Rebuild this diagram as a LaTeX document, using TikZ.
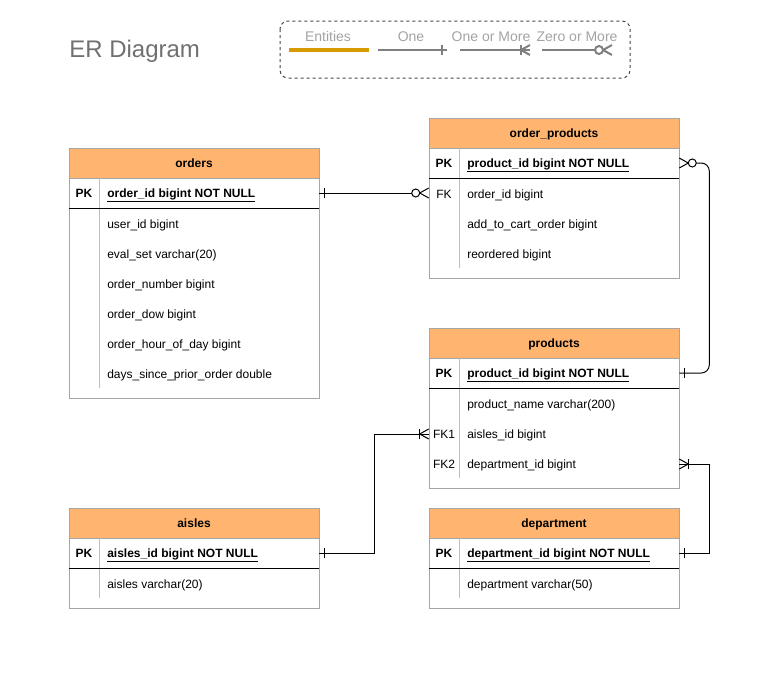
\documentclass[tikz,border=0pt]{standalone}
\usepackage{fontspec}
\setmainfont{Liberation Sans}
\usetikzlibrary{calc}
\definecolor{hdr}{HTML}{FFB570}
\definecolor{bord}{HTML}{A6A6A6}
\definecolor{divc}{HTML}{BDBDBD}
\definecolor{leg}{HTML}{A3A3A3}
\definecolor{legline}{HTML}{7F7F7F}
\definecolor{entc}{HTML}{D79B00}
\definecolor{titlec}{HTML}{707070}
\definecolor{legbox}{HTML}{444444}
\begin{document}
\begin{tikzpicture}[x=0.75pt,y=-0.75pt,
  font=\fontsize{9}{11}\selectfont,
  tblframe/.style={draw=bord, fill=white, line width=0.75pt},
  hdrbox/.style={draw=bord, fill=hdr, line width=0.75pt, minimum width=187.5pt, minimum height=22.5pt, inner sep=0pt, font=\fontsize{9}{11}\selectfont\bfseries},
  hdrtxt/.style={anchor=base, inner sep=0pt, font=\fontsize{9}{11}\selectfont\bfseries},
  rowbox/.style={minimum width=187.5pt, minimum height=22.5pt, inner sep=0pt},
  pkkey/.style={anchor=base, inner sep=0pt, font=\fontsize{9}{11}\selectfont\bfseries},
  fkkey/.style={anchor=base, inner sep=0pt},
  pkfld/.style={anchor=base west, inner sep=0pt, font=\fontsize{9}{11}\selectfont\bfseries},
  fld/.style={anchor=base west, inner sep=0pt},
  rowsep/.style={draw=black, line width=0.75pt},
  coldiv/.style={draw=divc, line width=0.75pt},
  conn/.style={draw=black, line width=0.75pt},
  mk/.style={draw=black, line width=0.75pt},
  legtxt/.style={anchor=base, inner sep=0pt, text=leg, font=\fontsize{10.5}{12}\selectfont},
  legln/.style={draw=legline, line width=1.5pt},
  erone/.pic={\draw[mk] (5,-5) -- (5,5);},
  ermany/.pic={\draw[mk] (0,-5) -- (9,0) -- (0,5); \draw[mk] (9,-5) -- (9,5);},
  erzmany/.pic={\draw[mk] (0,-5) -- (9,0) -- (0,5); \draw[mk, fill=white] (13,0) circle[radius=4];}
]
\useasboundingbox (0,0) rectangle (780,675);

% title
\node[anchor=base west, inner sep=0pt, text=titlec, font=\fontsize{18}{21}\selectfont] (title) at (69,57) {ER Diagram};

% legend
\draw[draw=legbox, line width=0.75pt, dash pattern=on 2.25pt off 2.25pt, rounded corners=6pt] (280,21) rectangle (630,78);
\node[legtxt] (lgent) at (328,41) {Entities};
\node[legtxt] (lgone) at (411,41) {One};
\node[legtxt] (lgom) at (491,41) {One or More};
\node[legtxt] (lgzm) at (577,41) {Zero or More};
\coordinate (le1) at (289,50); \coordinate (le2) at (369,50);
\draw[draw=entc, line width=3pt] (le1) -- (le2);
\coordinate (lo1) at (378,50); \coordinate (lo2) at (447,50);
\draw[legln] (lo1) -- (lo2);
\path (lo2) pic[xscale=-1, mk/.style={draw=legline, line width=1.5pt}]{erone};
\coordinate (lm1) at (460,50); \coordinate (lm2) at (530,50);
\draw[legln] (lm1) -- (lm2);
\path (lm2) pic[xscale=-1, mk/.style={draw=legline, line width=1.5pt}]{ermany};
\coordinate (lz1) at (542,50); \coordinate (lz2) at (612,50);
\draw[legln] (lz1) -- ($(lz2)+(-17,0)$);
\path (lz2) pic[xscale=-1, mk/.style={draw=legline, line width=1.5pt}]{erzmany};

% ---------- orders ----------
\draw[tblframe] (69,148) rectangle (319,398);
\node[hdrbox] (ordh) at (194,163) {};
\node[hdrtxt] (ordt) at (194,167) {orders};
\node[rowbox] (ordpk) at (194,193) {};
\draw[coldiv] (99,178) -- (99,388);
\draw[rowsep] (69,208) -- (319,208);
\node[pkkey] (ordk) at (84,197) {PK};
\node[pkfld] (ordf0) at (107,197) {\underline{order\_id bigint NOT NULL}};
\node[fld] (ordf1) at (107,228) {user\_id bigint};
\node[fld] (ordf2) at (107,258) {eval\_set varchar(20)};
\node[fld] (ordf3) at (107,288) {order\_number bigint};
\node[fld] (ordf4) at (107,318) {order\_dow bigint};
\node[fld] (ordf5) at (107,348) {order\_hour\_of\_day bigint};
\node[fld] (ordf6) at (107,378) {days\_since\_prior\_order double};

% ---------- order_products ----------
\draw[tblframe] (429,118) rectangle (679,278);
\node[hdrbox] (oph) at (554,133) {};
\node[hdrtxt] (opt) at (554,137) {order\_products};
\node[rowbox] (oppk) at (554,163) {};
\node[rowbox] (opfk) at (554,193) {};
\draw[coldiv] (459,148) -- (459,268);
\draw[rowsep] (429,178) -- (679,178);
\node[pkkey] (opk) at (444,167) {PK};
\node[pkfld] (opf0) at (467,167) {\underline{product\_id bigint NOT NULL}};
\node[fkkey] (opk1) at (444,198) {FK};
\node[fld] (opf1) at (467,198) {order\_id bigint};
\node[fld] (opf2) at (467,228) {add\_to\_cart\_order bigint};
\node[fld] (opf3) at (467,258) {reordered bigint};

% ---------- products ----------
\draw[tblframe] (429,328) rectangle (679,488);
\node[hdrbox] (prh) at (554,343) {};
\node[hdrtxt] (prt) at (554,347) {products};
\node[rowbox] (prpk) at (554,373) {};
\node[rowbox] (prfk1) at (554,434) {};
\node[rowbox] (prfk2) at (554,464) {};
\draw[coldiv] (459,358) -- (459,478);
\draw[rowsep] (429,388) -- (679,388);
\node[pkkey] (prk) at (444,377) {PK};
\node[pkfld] (prf0) at (467,377) {\underline{product\_id bigint NOT NULL}};
\node[fld] (prf1) at (467,408) {product\_name varchar(200)};
\node[fkkey] (prk1) at (444,438) {FK1};
\node[fld] (prf2) at (467,438) {aisles\_id bigint};
\node[fkkey] (prk2) at (444,468) {FK2};
\node[fld] (prf3) at (467,468) {department\_id bigint};

% ---------- aisles ----------
\draw[tblframe] (69,508) rectangle (319,608);
\node[hdrbox] (alh) at (194,523) {};
\node[hdrtxt] (alt) at (194,527) {aisles};
\node[rowbox] (alpk) at (194,553) {};
\draw[coldiv] (99,538) -- (99,598);
\draw[rowsep] (69,568) -- (319,568);
\node[pkkey] (alk) at (84,557) {PK};
\node[pkfld] (alf0) at (107,557) {\underline{aisles\_id bigint NOT NULL}};
\node[fld] (alf1) at (107,588) {aisles varchar(20)};

% ---------- department ----------
\draw[tblframe] (429,508) rectangle (679,608);
\node[hdrbox] (dph) at (554,523) {};
\node[hdrtxt] (dpt) at (554,527) {department};
\node[rowbox] (dppk) at (554,553) {};
\draw[coldiv] (459,538) -- (459,598);
\draw[rowsep] (429,568) -- (679,568);
\node[pkkey] (dpk) at (444,557) {PK};
\node[pkfld] (dpf0) at (467,557) {\underline{department\_id bigint NOT NULL}};
\node[fld] (dpf1) at (467,588) {department varchar(50)};

% ---------- connectors ----------
\draw[conn] (ordpk.east) -- ($(opfk.west)+(-17,0)$);
\path (ordpk.east) pic{erone};
\path (opfk.west) pic[rotate=180]{erzmany};

\draw[conn, rounded corners=6pt] ($(oppk.east)+(17,0)$) -- ++(13,0) |- (prpk.east);
\path (oppk.east) pic{erzmany};
\path (prpk.east) pic{erone};

\draw[conn] (alpk.east) -- ++(55,0) |- (prfk1.west);
\path (alpk.east) pic{erone};
\path (prfk1.west) pic[rotate=180]{ermany};

\draw[conn] (dppk.east) -- ++(30,0) |- (prfk2.east);
\path (dppk.east) pic{erone};
\path (prfk2.east) pic{ermany};
\end{tikzpicture}
\end{document}
